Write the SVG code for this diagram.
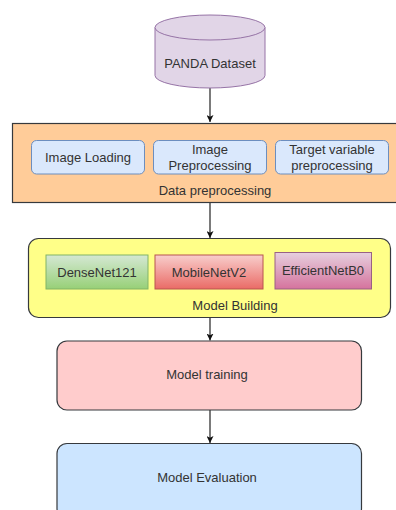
<svg xmlns="http://www.w3.org/2000/svg" width="396" height="510" viewBox="0 0 396 510">
<style>
text{font-family:"Liberation Sans",Arial,sans-serif;font-size:13px;fill:#333;text-anchor:middle}
.conn{stroke:#333;stroke-width:1.3;fill:none}
.inner{fill:#dae8fc;stroke:#6c8ebf;stroke-width:1}
.frame{stroke:#36393d;stroke-width:1.2}
</style>
<defs>
<marker id="arr" viewBox="0 0 10 10" refX="10" refY="5" markerWidth="7" markerHeight="7" markerUnits="userSpaceOnUse" orient="auto">
<path d="M0,0 L10,5 L0,10 L2.5,5 Z" fill="#111"/>
</marker>
<linearGradient id="gGreen" x1="0" y1="0" x2="0" y2="1"><stop offset="0" stop-color="#d5e8d4"/><stop offset="1" stop-color="#97d077"/></linearGradient>
<linearGradient id="gRed" x1="0" y1="0" x2="0" y2="1"><stop offset="0" stop-color="#f8cecc"/><stop offset="1" stop-color="#ea6b66"/></linearGradient>
<linearGradient id="gPurple" x1="0" y1="0" x2="0" y2="1"><stop offset="0" stop-color="#e6d0de"/><stop offset="1" stop-color="#d5739d"/></linearGradient>
</defs>
<rect width="396" height="510" fill="#fff"/>
<g id="connectors">
<line class="conn" x1="210" y1="88" x2="210" y2="122" marker-end="url(#arr)"/>
<line class="conn" x1="210" y1="203" x2="210" y2="238" marker-end="url(#arr)"/>
<line class="conn" x1="210" y1="318" x2="210" y2="340.5" marker-end="url(#arr)"/>
<line class="conn" x1="210" y1="410" x2="210" y2="443" marker-end="url(#arr)"/>
</g>
<g id="panda">
<path d="M155,27.5 L155,75.5 A55,12.5 0 0 0 265,75.5 L265,27.5" fill="#e1d5e7" stroke="#9673a6" stroke-width="1"/>
<ellipse cx="210" cy="27.5" rx="55" ry="12.5" fill="#e1d5e7" stroke="#9673a6" stroke-width="1"/>
<text x="210" y="68">PANDA Dataset</text>
</g>
<g id="data-preprocessing">
<rect class="frame" x="12.5" y="123.5" width="400" height="79" fill="#ffcc99"/>
<text x="215" y="195">Data preprocessing</text>
</g>
<g id="image-loading">
<rect class="inner" x="31.5" y="140.5" width="113" height="33.5" rx="5"/>
<text x="88" y="162">Image Loading</text>
</g>
<g id="image-preprocessing">
<rect class="inner" x="153.5" y="140.5" width="113" height="33.5" rx="5"/>
<text x="210" y="154">Image</text>
<text x="210" y="170">Preprocessing</text>
</g>
<g id="target-preprocessing">
<rect class="inner" x="275.5" y="140.5" width="113" height="33.5" rx="5"/>
<text x="332" y="154">Target variable</text>
<text x="332" y="170">preprocessing</text>
</g>
<g id="model-building">
<rect class="frame" x="28.5" y="238.5" width="362" height="79" rx="10" fill="#ffff88"/>
<text x="235" y="310">Model Building</text>
</g>
<g id="densenet">
<rect x="46" y="255" width="102" height="34" fill="url(#gGreen)" stroke="#82b366"/>
<text x="97" y="277">DenseNet121</text>
</g>
<g id="mobilenet">
<rect x="155" y="255" width="108" height="34" fill="url(#gRed)" stroke="#b85450"/>
<text x="209" y="277">MobileNetV2</text>
</g>
<g id="efficientnet">
<rect x="275" y="252.5" width="96.5" height="36.5" fill="url(#gPurple)" stroke="#996185"/>
<text x="323" y="275">EfficientNetB0</text>
</g>
<g id="model-training">
<rect class="frame" x="57" y="341" width="304.5" height="69" rx="10" fill="#ffcccc"/>
<text x="207" y="379">Model training</text>
</g>
<g id="model-evaluation">
<rect class="frame" x="57" y="443.5" width="304.5" height="75" rx="10" fill="#cce5ff"/>
<text x="207" y="482">Model Evaluation</text>
</g>
</svg>
